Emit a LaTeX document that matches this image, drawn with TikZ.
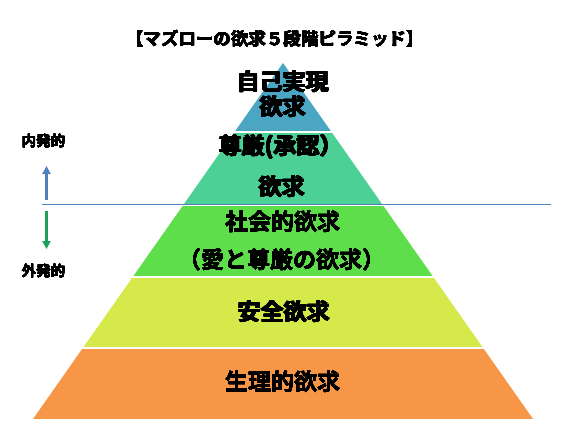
\documentclass[tikz,border=0pt]{standalone}
\usepackage{fontspec}
\usepackage{contour}
\setmainfont{Noto Sans CJK JP}
\IfFontExistsTF{Noto Sans CJK JP Bold}
  {\newfontfamily\jpbold{Noto Sans CJK JP Bold}}
  {\newfontfamily\jpbold{Noto Sans CJK JP}}
\contournumber{16}
\newcommand\heavy[1]{\contour{black}{#1}}
\usetikzlibrary{arrows.meta}
\definecolor{selfblue}{HTML}{4BA6C4}
\definecolor{esteemteal}{HTML}{4DD096}
\definecolor{socialgreen}{HTML}{5FDE4B}
\definecolor{safetyyellow}{HTML}{D5E94B}
\definecolor{bodyorange}{HTML}{F79646}
\definecolor{linkblue}{HTML}{4F81BD}
\definecolor{arrowgreen}{HTML}{1FA05A}
\tikzset{
  level/.style={font=\jpbold\fontsize{23}{25}\selectfont\contourlength{0.3pt}, inner sep=0pt},
  side/.style={font=\jpbold\fontsize{14.5}{16}\selectfont\contourlength{0.15pt}, inner sep=0pt},
  heading/.style={font=\jpbold\fontsize{17.5}{19}\selectfont\contourlength{0.25pt}, inner sep=0pt},
  motive/.style={line width=2.6pt, -{Triangle[length=8pt,width=8pt]}}
}

\begin{document}
\begin{tikzpicture}[x=1pt,y=-1pt]
\def\colorlist{{"selfblue","esteemteal","socialgreen","safetyyellow","bodyorange"}}
\useasboundingbox[fill=white] (0,0) rectangle (580,433);
\coordinate (A) at (33,419);
\coordinate (B) at (533,419);
\coordinate (C) at (283,63);
\foreach \ytop/\ybot [count=\xi starting from 0] in {60/131,133/203.5,205.5/276,278/347,349/419} {
\pgfmathsetmacro\myfill{\colorlist[\xi]}
  \begin{scope}
    \clip (A) -- (B) -- (C) -- cycle;
    \fill[\myfill] (0,\ytop) rectangle (580,\ybot);
  \end{scope}
}
% divider between inner and outer motivation
\coordinate (L) at (42,204);
\coordinate (R) at (551,204);
\draw[linkblue, line width=1pt] (L) -- (R);
\coordinate (up0) at (46.5,200);
\coordinate (up1) at (46.5,166);
\coordinate (dn0) at (46.5,211);
\coordinate (dn1) at (46.5,249);
\draw[motive, linkblue] (up0) -- (up1);
\draw[motive, arrowgreen] (dn0) -- (dn1);
\node[side] (inner) at (43.5,141) {\heavy{内発的}};
\node[side] (outer) at (43.5,271) {\heavy{外発的}};
\node[heading] (title) at (275,39) {\heavy{【マズローの欲求５段階ピラミッド】}};
% tier labels
\node[level] (self1) at (283,82) {\heavy{自己実現}};
\node[level] (self2) at (283,107) {\heavy{欲求}};
\node[level] (esteem1) at (281,147) {\heavy{尊厳(承認）}};
\node[level] (esteem2) at (282,187) {\heavy{欲求}};
\node[level] (social1) at (283,222) {\heavy{社会的欲求}};
\node[level] (social2) at (282,260) {\heavy{（愛と尊厳の欲求）}};
\node[level] (safety) at (284,312) {\heavy{安全欲求}};
\node[level] (body) at (283,382) {\heavy{生理的欲求}};
\end{tikzpicture}
\end{document}
